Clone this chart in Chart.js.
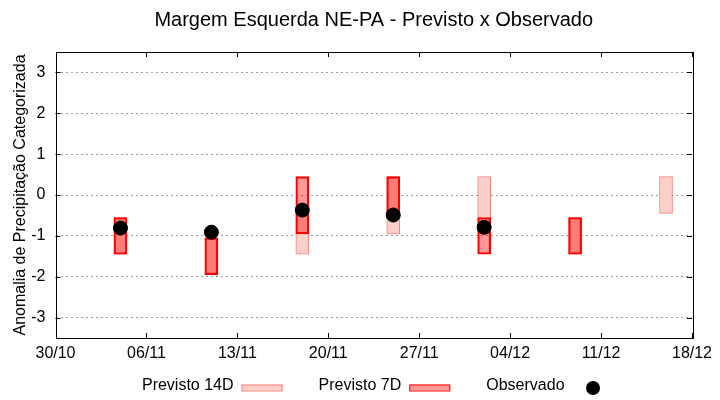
<!DOCTYPE html>
<html>
<head>
<meta charset="utf-8">
<script src="https://cdn.jsdelivr.net/npm/chart.js@4.4.1/dist/chart.umd.min.js"></script>
<style>
  body { margin: 0; background: #fff; }
</style>
</head>
<body>
<canvas id="grafico" width="720" height="400"></canvas>
<script>
// eixo x em dias a partir de 30/10
const tickLabels = ["30/10", "06/11", "13/11", "20/11", "27/11", "04/12", "11/12", "18/12"];
const yTicks = [-3, -2, -1, 0, 1, 2, 3];

// Previsto 14D (faixa min / max)
const days14 = [5, 12, 19, 26, 33, 40, 47];
const lo14 = [-1.45, -1.95, -1.45, -0.95, -0.95, -1.45, -0.45];
const hi14 = [-0.55, -1.05, -0.45, 0.45, 0.45, -0.55, 0.45];

// Previsto 7D
const days7 = [5, 12, 19, 26, 33, 40];
const lo7 = [-1.45, -1.95, -0.95, -0.45, -1.45, -1.45];
const hi7 = [-0.55, -1.05, 0.45, 0.45, -0.55, -0.55];

// Observado
const daysObs = [5, 12, 19, 26, 33];
const obs = [-0.81, -0.91, -0.37, -0.49, -0.79];

const FONT = "'Liberation Sans', Arial, sans-serif";

let data14 = days14.map((d, i) => ({ x: d, y: [lo14[i], hi14[i]] }));
let data7 = days7.map((d, i) => ({ x: d, y: [lo7[i], hi7[i]] }));
let dataObs = daysObs.map((d, i) => ({ x: d, y: obs[i] }));

// titulo, moldura, ticks espelhados e legenda estilo gnuplot
const gnuplotLook = {
  id: "gnuplotLook",
  afterDraw(chart) {
    const ctx = chart.ctx;
    const a = chart.chartArea;
    const xs = chart.scales.x, ys = chart.scales.y;
    ctx.save();

    // titulo
    ctx.fillStyle = "#000";
    ctx.font = "20px " + FONT;
    ctx.textAlign = "center";
    ctx.textBaseline = "middle";
    ctx.fillText("Margem Esquerda NE-PA - Previsto x Observado", (a.left + a.right) / 2, 20);

    // moldura
    ctx.strokeStyle = "#000";
    ctx.lineWidth = 1;
    ctx.strokeRect(Math.round(a.left) + 0.5, Math.round(a.top) + 0.5,
      Math.round(a.right - a.left), Math.round(a.bottom - a.top));

    ctx.beginPath();
    xs.ticks.forEach(t => {
      const px = Math.round(xs.getPixelForValue(t.value)) + 0.5;
      ctx.moveTo(px, a.bottom); ctx.lineTo(px, a.bottom - 5);
      ctx.moveTo(px, a.top); ctx.lineTo(px, a.top + 5);
    });
    ys.ticks.forEach(t => {
      const py = Math.round(ys.getPixelForValue(t.value)) + 0.5;
      ctx.moveTo(a.left, py); ctx.lineTo(a.left + 5, py);
      ctx.moveTo(a.right, py); ctx.lineTo(a.right - 5, py);
    });
    ctx.stroke();

    // legenda
    ctx.font = "16px " + FONT;
    ctx.textAlign = "left";
    const gap = 8, sample = 41, spacing = 36, ly = 386;
    const items = chart.data.datasets.map(ds => ({ ds, w: ctx.measureText(ds.label).width + gap + sample }));
    let total = items.reduce((s, it) => s + it.w, 0) + spacing * (items.length - 1);
    let x = (a.left + a.right) / 2 - total / 2 + 4;
    items.forEach(it => {
      const ds = it.ds;
      ctx.fillStyle = "#000";
      ctx.fillText(ds.label, x, ly);
      const sx = x + ctx.measureText(ds.label).width + gap;
      if (ds.type === "line") {
        ctx.beginPath();
        ctx.arc(sx + sample / 2, ly + 2, ds.pointRadius, 0, Math.PI * 2);
        ctx.fillStyle = ds.backgroundColor;
        ctx.fill();
      } else {
        ctx.fillStyle = ds.backgroundColor;
        ctx.fillRect(sx, ly - 1.5, sample, 6);
        ctx.strokeStyle = ds.borderColor;
        ctx.strokeRect(sx + 0.5, ly - 1.5 + 0.5, sample - 1, 6);
      }
      x += it.w + spacing;
    });
    ctx.restore();
  }
};

new Chart(document.getElementById("grafico"), {
  type: "bar",
  data: {
    datasets: [
      {
        label: "Previsto 14D",
        data: data14,
        backgroundColor: "#fcd0c9",
        borderColor: "#f2857a",
        borderWidth: 1,
        borderSkipped: false,
        barThickness: 13,
        grouped: false,
        order: 2
      },
      {
        label: "Previsto 7D",
        data: data7,
        backgroundColor: "rgba(255, 0, 0, 0.4)",
        borderColor: "#ff0000",
        borderWidth: 1.5,
        borderSkipped: false,
        barThickness: 13,
        grouped: false,
        order: 1
      },
      {
        type: "line",
        label: "Observado",
        data: dataObs,
        showLine: false,
        pointRadius: 7,
        pointHoverRadius: 7,
        backgroundColor: "#000",
        borderColor: "#000",
        order: 0
      }
    ]
  },
  options: {
    responsive: false,
    devicePixelRatio: 1,
    animation: false,
    layout: { padding: { left: 0, right: 28, top: 52, bottom: 0 } },
    plugins: {
      legend: { display: false },
      title: { display: false },
      tooltip: { enabled: false }
    },
    scales: {
      x: {
        type: "linear",
        min: 0,
        max: 49,
        offset: false,
        grid: { display: false, drawTicks: false },
        border: { display: false },
        ticks: {
          stepSize: 7,
          autoSkip: false,
          maxRotation: 0,
          padding: 6,
          color: "#000",
          font: { family: FONT, size: 16 },
          callback: (v, i) => tickLabels[i]
        },
        afterFit: s => { s.height = 62; }
      },
      y: {
        min: -3.5,
        max: 3.5,
        grid: { color: "#9a9a9a", drawTicks: false },
        border: { display: false, dash: [2, 3] },
        afterBuildTicks: s => { s.ticks = yTicks.map(v => ({ value: v })); },
        ticks: {
          padding: 10,
          color: "#000",
          font: { family: FONT, size: 16 },
          callback: v => String(v)
        },
        title: {
          display: true,
          text: "Anomalia de Precipitação Categorizada",
          color: "#000",
          font: { family: FONT, size: 16 },
          padding: { top: 11, bottom: 0 }
        },
        afterFit: s => { s.width = 55.5; }
      }
    }
  },
  plugins: [gnuplotLook]
});
</script>
</body>
</html>
